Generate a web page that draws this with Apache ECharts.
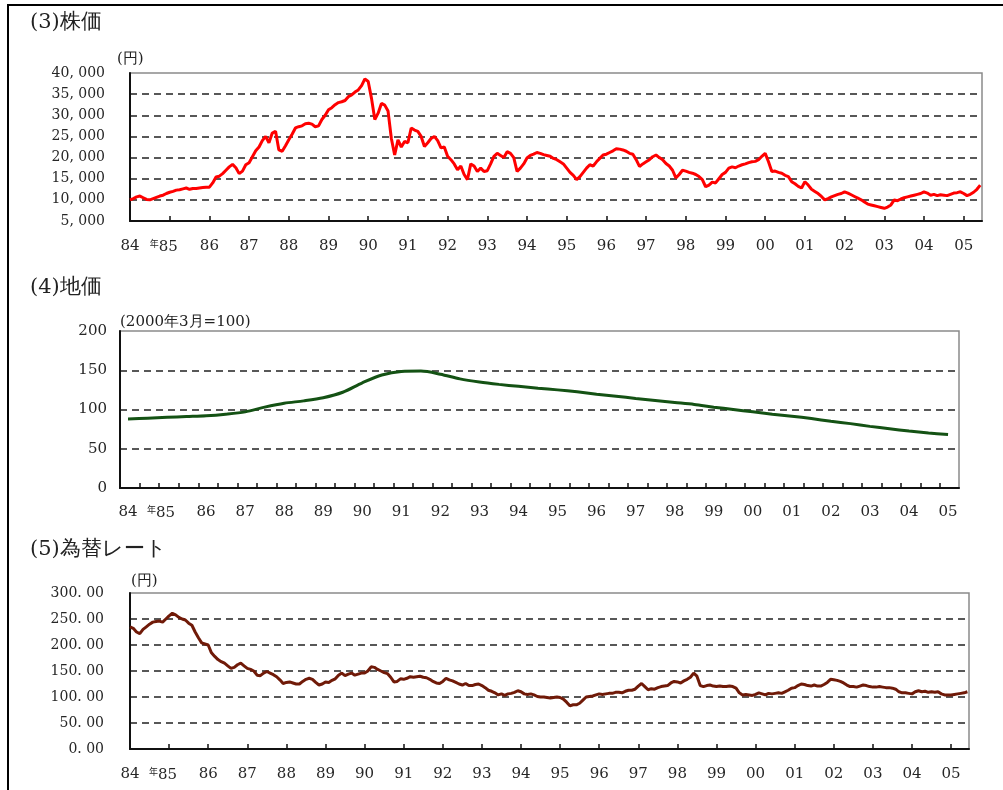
<!DOCTYPE html>
<html><head><meta charset="utf-8">
<script src="https://cdn.jsdelivr.net/npm/echarts@6/dist/echarts.min.js"></script>
<style>html,body{margin:0;padding:0;background:#fff}#c{width:1003px;height:790px}</style>
</head><body><div id="c"></div>
<script>
// ---- tick labels ----
const yearTicks = [1984,1985,1986,1987,1988,1989,1990,1991,1992,1993,1994,1995,1996,1997,1998,1999,2000,2001,2002,2003,2004,2005];
const stockYTicks = [5000,10000,15000,20000,25000,30000,35000,40000];
const landYTicks = [0,50,100,150,200];
const fxYTicks = [0,50,100,150,200,250,300];

// ---- (3) stock price, monthly from 1984-01 ----
const stockStart = 1984;
const stockValues = [
  10000,10300,10700,10900,10500,10100,10000,10300,10600,10900,11100,11500, // 1984
  11800,12000,12300,12400,12600,12800,12500,12700,12700,12800,12900,13000, // 1985
  13000,14000,15400,15600,16200,17000,17800,18400,17600,16200,16800,18300, // 1986
  18800,20200,21600,22500,24000,25000,23500,25800,26200,21800,21500,22800, // 1987
  24200,25500,27000,27300,27500,28000,28100,27900,27300,27500,29000,30000, // 1988
  31300,31800,32500,33000,33200,33500,34400,34800,35500,36000,37000,38600, // 1989
  38000,34000,29000,30500,32800,32400,31000,24500,20600,24200,22500,23800, // 1990
  23500,27000,26500,26200,25000,22600,23500,24500,25000,24000,22300,22500, // 1991
  20300,19500,18500,17100,18000,16000,14800,18500,18000,16700,17500,16700, // 1992
  16900,18500,20300,21000,20500,20000,21400,21000,20000,16700,17500,18500, // 1993
  19900,20500,20800,21200,21000,20700,20500,20300,19800,19500,19000,18500, // 1994
  17500,16500,15800,14800,15500,16500,17500,18300,18000,19000,19800,20600, // 1995
  20800,21200,21600,22100,22000,21800,21500,21000,20800,19500,17900,18500, // 1996
  19000,19500,20200,20600,20000,19500,18600,18000,17000,15200,16000,17000, // 1997
  16800,16500,16300,16000,15500,14800,13100,13500,14200,14000,15000,16000, // 1998
  16500,17500,17800,17600,18000,18300,18500,18800,19000,19100,19500,20300, // 1999
  21000,19000,16700,16800,16500,16300,15800,15500,14300,13800,13200,12800, // 2000
  14300,13500,12500,12000,11500,10800,10000,10300,10700,11000,11300,11500, // 2001
  11900,11600,11200,10800,10400,10000,9500,9000,8800,8600,8400,8200,       // 2002
  8000,8300,8800,10000,9800,10200,10500,10700,10900,11100,11300,11500,     // 2003
  11900,11600,11100,11300,11000,11200,11100,11000,11300,11600,11700,11900, // 2004
  11500,11000,11300,11800,12500,13500                                      // 2005
];

// ---- (4) land price index (2000年3月=100), half-yearly from 1984 ----
const landStart = 1984;
const landValues = [
  88,89, 90,91, 92,94, 97,103, 108,111, 115,122, 134,144, 148.5,149,
  145,139, 135,132, 129.5,127, 125,122.5, 119.5,117, 114,111.5, 109,106.5,
  103,100, 97,94, 91.5,88.5, 85,82, 78.5,75.5, 72.5,70, 68
];

// ---- (5) exchange rate (yen per dollar), monthly from 1984-01 ----
const fxStart = 1984;
const fxValues = [
  235,232,225,222,230,235,240,244,245,246,244,250, // 1984
  256,261,258,253,250,248,242,238,225,214,204,202, // 1985
  200,185,178,172,168,165,160,155,157,162,165,160, // 1986
  155,153,150,142,141,146,149,146,143,139,133,126, // 1987
  128,129,127,125,125,130,134,136,134,128,123,125, // 1988
  129,128,132,135,142,146,141,144,146,142,144,146, // 1989
  146,150,158,157,153,150,147,145,138,129,130,135, // 1990
  134,136,139,138,139,140,138,137,134,130,127,126, // 1991
  130,136,133,131,128,125,123,126,122,122,124,125, // 1992
  122,118,113,111,108,104,106,103,106,107,109,112, // 1993
  110,106,105,106,104,101,100,100,99,98,99,100,    // 1994
  99,96,90,83,85,85,88,94,100,101,102,104,         // 1995
  106,105,106,107,107,109,109,108,111,113,113,115, // 1996
  121,126,120,114,116,115,118,120,121,122,127,130, // 1997
  129,127,131,134,138,146,140,122,120,122,123,121, // 1998
  120,121,120,120,121,120,117,108,104,105,104,103, // 1999
  105,108,106,104,107,106,107,108,107,110,113,117, // 2000
  118,122,125,124,122,121,123,121,121,124,128,134, // 2001
  133,132,130,127,123,120,120,119,121,123,122,120, // 2002
  119,119,120,119,118,118,117,115,110,108,108,107, // 2003
  106,110,112,110,111,109,110,109,110,106,104,104, // 2004
  104,105,106,107,108,110                          // 2005
];

const stockData = stockValues.map((v, i) => [stockStart + i / 12, v]);
const landData = landValues.map((v, i) => [landStart + i / 2, v]);
const fxData = fxValues.map((v, i) => [fxStart + i / 12, v]);

const landTicks = [];
for (let t = 1984.3; t < 2005; t += 0.5) landTicks.push(+t.toFixed(2));

const numFont = 'DejaVu Serif';
const jpFont = 'Noto Sans CJK JP';
const dark = '#262626';

function yearLabel(v) {
  const y = Math.round(v);
  const yy = String(y % 100).padStart(2, '0');
  if (y === 1985) return '{s|年}{k|' + yy + '}';
  return '{n|' + yy + '}';
}
const richYear = {
  n: { fontFamily: numFont, fontSize: 15, color: dark },
  k: { fontFamily: numFont, fontSize: 15, color: dark, padding: [0, 12, 0, 0] },
  s: { fontFamily: jpFont, fontSize: 9, color: dark, padding: [0, 0, 7, 0] }
};
function commaFmt(v) {
  const s = String(v);
  return s.length > 3 ? s.slice(0, s.length - 3) + ', ' + s.slice(s.length - 3) : s;
}

const dashed = { show: true, showMinLine: false, showMaxLine: false,
  lineStyle: { color: '#222', type: [7, 5], width: 1.5 } };
const gridBase = { show: true, borderColor: '#8a8a8a', borderWidth: 1.5, backgroundColor: '#fff' };

function xAxisBase(grid, min, max, labelVals, tickVals, margin) {
  return {
    type: 'value', gridIndex: grid, min: min, max: max,
    axisLine: { show: true, lineStyle: { color: '#111', width: 2 } },
    axisTick: { show: true, inside: true, length: 5, customValues: tickVals, lineStyle: { color: '#111', width: 1.5 } },
    axisLabel: { show: true, customValues: labelVals, margin: margin, formatter: yearLabel, rich: richYear },
    splitLine: { show: false }
  };
}
function yAxisBase(grid, min, max, interval, fmt, margin, size) {
  return {
    type: 'value', gridIndex: grid, min: min, max: max, interval: interval,
    axisLine: { show: true, lineStyle: { color: '#111', width: 2 } },
    axisTick: { show: false },
    axisLabel: { margin: margin, formatter: fmt, fontFamily: numFont, fontSize: size, color: dark },
    splitLine: dashed
  };
}

const titleStyle = { fontFamily: numFont, fontSize: 21, fontWeight: 'normal', color: '#222' };
const unitStyle = { fontFamily: numFont, fontSize: 15, fontWeight: 'normal', color: '#222' };

const option = {
  animation: false,
  backgroundColor: '#fff',
  graphic: [{ type: 'rect', shape: { x: 8, y: 5, width: 1200, height: 1000 },
    style: { fill: 'none', stroke: '#000', lineWidth: 2 }, silent: true }],
  title: [
    { text: '(3)株価', left: 30, top: 12, padding: 0, textStyle: titleStyle },
    { text: '(円)', left: 117, top: 52, padding: 0, textStyle: unitStyle },
    { text: '(4)地価', left: 30, top: 277, padding: 0, textStyle: titleStyle },
    { text: '(2000年3月=100)', left: 120, top: 315, padding: 0, textStyle: unitStyle },
    { text: '(5)為替レート', left: 30, top: 539, padding: 0, textStyle: titleStyle },
    { text: '(円)', left: 131, top: 574, padding: 0, textStyle: unitStyle }
  ],
  grid: [
    Object.assign({ left: 130, top: 73, width: 852, height: 148 }, gridBase),
    Object.assign({ left: 120, top: 331, width: 839, height: 157 }, gridBase),
    Object.assign({ left: 130, top: 593, width: 839, height: 156 }, gridBase)
  ],
  xAxis: [
    xAxisBase(0, 1984, 1984 + 852 / 39.7, yearTicks, yearTicks.slice(1), 18),
    xAxisBase(1, 1984 - 8 / 39.05, 1984 - 8 / 39.05 + 839 / 39.05, yearTicks, landTicks, 17),
    xAxisBase(2, 1984, 1984 + 839 / 39.1, yearTicks, yearTicks.slice(1), 18)
  ],
  yAxis: [
    yAxisBase(0, 5000, 40000, 5000, commaFmt, 25, 14),
    yAxisBase(1, 0, 200, 50, v => String(v), 13, 15),
    yAxisBase(2, 0, 300, 50, v => v + '. 00', 26, 14)
  ],
  series: [
    { type: 'line', xAxisIndex: 0, yAxisIndex: 0, data: stockData, symbol: 'none',
      lineStyle: { color: '#ff0000', width: 3 } },
    { type: 'line', xAxisIndex: 1, yAxisIndex: 1, data: landData, symbol: 'none', smooth: 0.3,
      lineStyle: { color: '#145214', width: 3 } },
    { type: 'line', xAxisIndex: 2, yAxisIndex: 2, data: fxData, symbol: 'none',
      lineStyle: { color: '#701a08', width: 3 } }
  ]
};
const chart = echarts.init(document.getElementById('c'), null, { renderer: 'canvas' });
chart.setOption(option);
</script>
</body></html>
